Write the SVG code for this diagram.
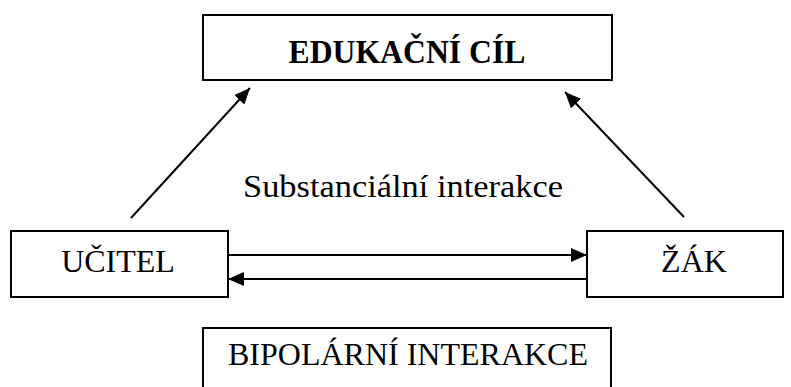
<svg xmlns="http://www.w3.org/2000/svg" width="791" height="387" viewBox="0 0 791 387">
<style>
.box{fill:#fff;stroke:#000;stroke-width:2}
.t{font-family:"Liberation Serif","Times New Roman",serif;font-size:32px;fill:#000;text-anchor:middle}
.b{font-weight:bold;font-size:33px}
.c{stroke:#000;stroke-width:2;fill:none}
</style>
<defs>
<marker id="ah" viewBox="0 0 16 14" refX="16" refY="7" markerWidth="16" markerHeight="14" markerUnits="userSpaceOnUse" orient="auto">
<path d="M0,0 L16,7 L0,14 Z" fill="#000"/>
</marker>
</defs>
<rect width="791" height="387" fill="#fff"/>
<g id="cil">
<rect class="box" x="203" y="15" width="409" height="65"/>
<text class="t b" x="407" y="63" textLength="237" lengthAdjust="spacingAndGlyphs">EDUKAČNÍ CÍL</text>
</g>
<g id="ucitel">
<rect class="box" x="11" y="231" width="217" height="66"/>
<text class="t" x="118" y="272">UČITEL</text>
</g>
<g id="zak">
<rect class="box" x="587" y="231" width="196" height="66"/>
<text class="t" x="694" y="272">ŽÁK</text>
</g>
<g id="bipolarni">
<rect class="box" x="203" y="328" width="408" height="70"/>
<text class="t" x="408" y="365">BIPOLÁRNÍ INTERAKCE</text>
</g>
<g id="label">
<text x="243" y="197" font-family="'Liberation Serif','Times New Roman',serif" font-size="31" textLength="320" lengthAdjust="spacingAndGlyphs">Substanciální interakce</text>
</g>
<g id="connectors">
<line class="c" x1="131" y1="218" x2="250" y2="88" marker-end="url(#ah)"/>
<line class="c" x1="684" y1="217" x2="565" y2="92" marker-end="url(#ah)"/>
<line class="c" x1="228" y1="255" x2="587" y2="255" marker-end="url(#ah)"/>
<line class="c" x1="587" y1="279" x2="228" y2="279" marker-end="url(#ah)"/>
</g>
</svg>
